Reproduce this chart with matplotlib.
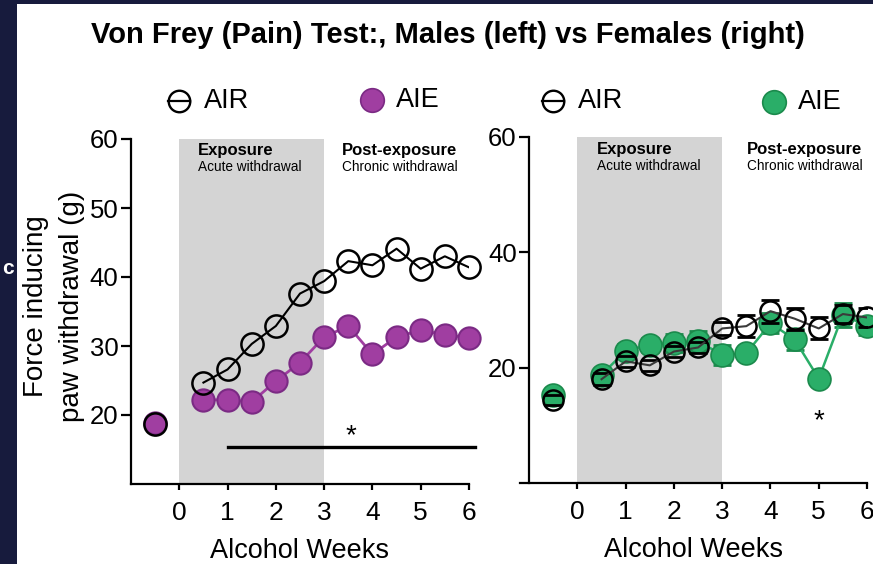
import matplotlib
matplotlib.use("Agg")
import matplotlib.pyplot as plt
from matplotlib.lines import Line2D
from matplotlib.patches import Rectangle

plt.rcParams["font.family"] = ["Liberation Sans", "DejaVu Sans"]

# 数据：周数
weeks = [-0.5, 0.5, 1, 1.5, 2, 2.5, 3, 3.5, 4, 4.5, 5, 5.5, 6]

# 雄性 (左)
male_air = [18.7, 24.7, 26.6, 30.3, 32.9, 37.6, 39.4, 42.3, 41.7, 44.1, 41.2, 43.0, 41.4]
male_aie = [18.9, 22.2, 22.2, 21.9, 24.9, 27.6, 31.3, 32.9, 28.8, 31.3, 32.3, 31.6, 31.2]

# 雌性 (右)
female_air = [14.4, 18.0, 21.1, 20.4, 22.8, 23.5, 26.8, 27.2, 29.8, 28.5, 26.8, 29.3, 28.7]
female_air_err = [0.8, 1.0, 1.0, 1.0, 1.0, 1.0, 1.2, 1.9, 2.0, 1.9, 1.9, 1.6, 1.7]
female_aie = [15.2, 18.8, 22.9, 24.0, 24.3, 24.6, 22.2, 22.5, 27.7, 24.9, 18.1, 29.2, 27.2]
female_aie_err = [0.8, 1.0, 1.2, 1.2, 1.6, 1.7, 1.8, 1.0, 1.7, 1.8, 1.0, 2.1, 1.5]

# 显著性标记
male_sig_span = [1, 6.13]
male_sig_y = 15.3

NAVY = "#171b3d"
PURPLE = "#a03ea1"
PURPLE_EDGE = "#7b2a84"
GREEN = "#2aae68"
GREEN_EDGE = "#1b8a4c"
SHADE = "#d4d4d4"

W, H = 873, 564


def fx(x):
    return x / W


def fy(y):
    return 1 - y / H


fig = plt.figure(figsize=(W / 100, H / 100), dpi=100, facecolor=NAVY)
fig.patches.append(Rectangle((fx(17), 0), 1 - fx(17), fy(4), transform=fig.transFigure,
                             facecolor="white", edgecolor="none", zorder=-10))

# 左边残留的面板字母
fig.text(fx(2), fy(268), "c", color="white", fontsize=15, fontweight="bold", ha="left", va="center")

fig.text(fx(448), fy(43), "Von Frey (Pain) Test:, Males (left) vs Females (right)",
         fontsize=21, fontweight="bold", ha="center", va="baseline")

axL = fig.add_axes([fx(131), fy(484), fx(469 - 131), (484 - 139) / H])
axR = fig.add_axes([fx(520), fy(483), fx(867 - 520), (483 - 137) / H])

for ax in (axL, axR):
    ax.set_facecolor("none")
    for s in ("top", "right"):
        ax.spines[s].set_visible(False)
    for s in ("left", "bottom"):
        ax.spines[s].set_linewidth(1.6)
    ax.tick_params(axis="y", length=7, width=1.6, pad=2, labelsize=18.5)
    ax.tick_params(axis="x", length=4.5, width=1.6, pad=8, labelsize=19)
    ax.set_xticks(range(0, 7))
    ax.axvspan(0, 3, color=SHADE, zorder=0, lw=0)
    ax.set_xlabel("Alcohol Weeks", fontsize=19.5, labelpad=9)

# 左图
axL.set_xlim(-1, 6)
axL.set_ylim(10, 60)
axL.set_yticks([20, 30, 40, 50, 60])
axL.plot(weeks[1:], male_aie[1:], color=PURPLE, lw=2, zorder=2)
axL.plot(weeks, male_aie, ls="none", marker="o", ms=16, mfc=PURPLE, mec=PURPLE_EDGE, mew=1.5,
         zorder=3, clip_on=False)
axL.plot(weeks[1:], male_air[1:], color="black", lw=1.5, zorder=4)
axL.plot(weeks, male_air, ls="none", marker="o", ms=16, mfc="none", mec="black", mew=1.8,
         zorder=5, clip_on=False)
axL.plot(male_sig_span, [male_sig_y] * 2, color="black", lw=2.4, clip_on=False, zorder=3)
axL.text(3.55, 16.9, "*", fontsize=20, ha="center", va="center")

axL.text(0.39, 57.7, "Exposure", fontsize=12, fontweight="bold", va="baseline")
axL.text(0.39, 55.35, "Acute withdrawal", fontsize=9.8, va="baseline")
axL.text(3.37, 57.7, "Post-exposure", fontsize=12, fontweight="bold", va="baseline")
axL.text(3.37, 55.35, "Chronic withdrawal", fontsize=9.8, va="baseline")

fig.text(fx(54), fy(306), "Force inducing\npaw withdrawal (g)", rotation=90, fontsize=20,
         ha="center", va="center", multialignment="center", linespacing=1.5)

# 右图
axR.set_xlim(-1.19, 6)
axR.set_ylim(0, 60)
axR.spines["left"].set_position(("data", -1))
axR.set_yticks([20, 40, 60])
axR.errorbar(weeks, female_aie, yerr=female_aie_err, fmt="none", ecolor=GREEN_EDGE,
             elinewidth=1.5, capsize=6.5, capthick=2, zorder=2)
axR.plot(weeks[1:], female_aie[1:], color=GREEN, lw=1.8, zorder=2)
axR.plot(weeks, female_aie, ls="none", marker="o", ms=16.5, mfc=GREEN, mec=GREEN_EDGE, mew=1.2,
         zorder=3, clip_on=False)
axR.errorbar(weeks, female_air, yerr=female_air_err, fmt="none", ecolor="black",
             elinewidth=0, capsize=6.5, capthick=2, zorder=4)
axR.plot(weeks[1:], female_air[1:], color="#3a3a3a", lw=1.5, zorder=4)
axR.plot(weeks, female_air, ls="none", marker="o", ms=14.5, mfc="none", mec="black", mew=1.8,
         zorder=5, clip_on=False)
axR.text(5.0, 10.7, "*", fontsize=20, ha="center", va="center")

axR.text(0.41, 57.1, "Exposure", fontsize=12, fontweight="bold", va="baseline")
axR.text(0.41, 54.3, "Acute withdrawal", fontsize=9.8, va="baseline")
axR.text(3.51, 57.1, "Post-exposure", fontsize=12, fontweight="bold", va="baseline")
axR.text(3.51, 54.3, "Chronic withdrawal", fontsize=9.8, va="baseline")


# 图例
def air_key(cx, cy, tx):
    r = 11
    fig.add_artist(Line2D([fx(cx - r), fx(cx + r)], [fy(cy)] * 2, transform=fig.transFigure,
                          color="black", lw=1.6))
    fig.add_artist(Line2D([fx(cx)], [fy(cy)], transform=fig.transFigure, marker="o", ms=15.5,
                          mfc="none", mec="black", mew=1.7))
    fig.text(fx(tx), fy(cy), "AIR", fontsize=19.5, ha="left", va="center")


def aie_key(cx, cy, tx, fc, ec):
    fig.add_artist(Line2D([fx(cx)], [fy(cy)], transform=fig.transFigure, marker="o", ms=17,
                          mfc=fc, mec=ec, mew=1.2))
    fig.text(fx(tx), fy(cy), "AIE", fontsize=19.5, ha="left", va="center")


air_key(179, 101, 204)
aie_key(372, 100, 396, PURPLE, PURPLE_EDGE)
air_key(553, 101, 578)
aie_key(774, 102, 798, GREEN, GREEN_EDGE)

fig.savefig("out.png", dpi=100, facecolor=fig.get_facecolor())
